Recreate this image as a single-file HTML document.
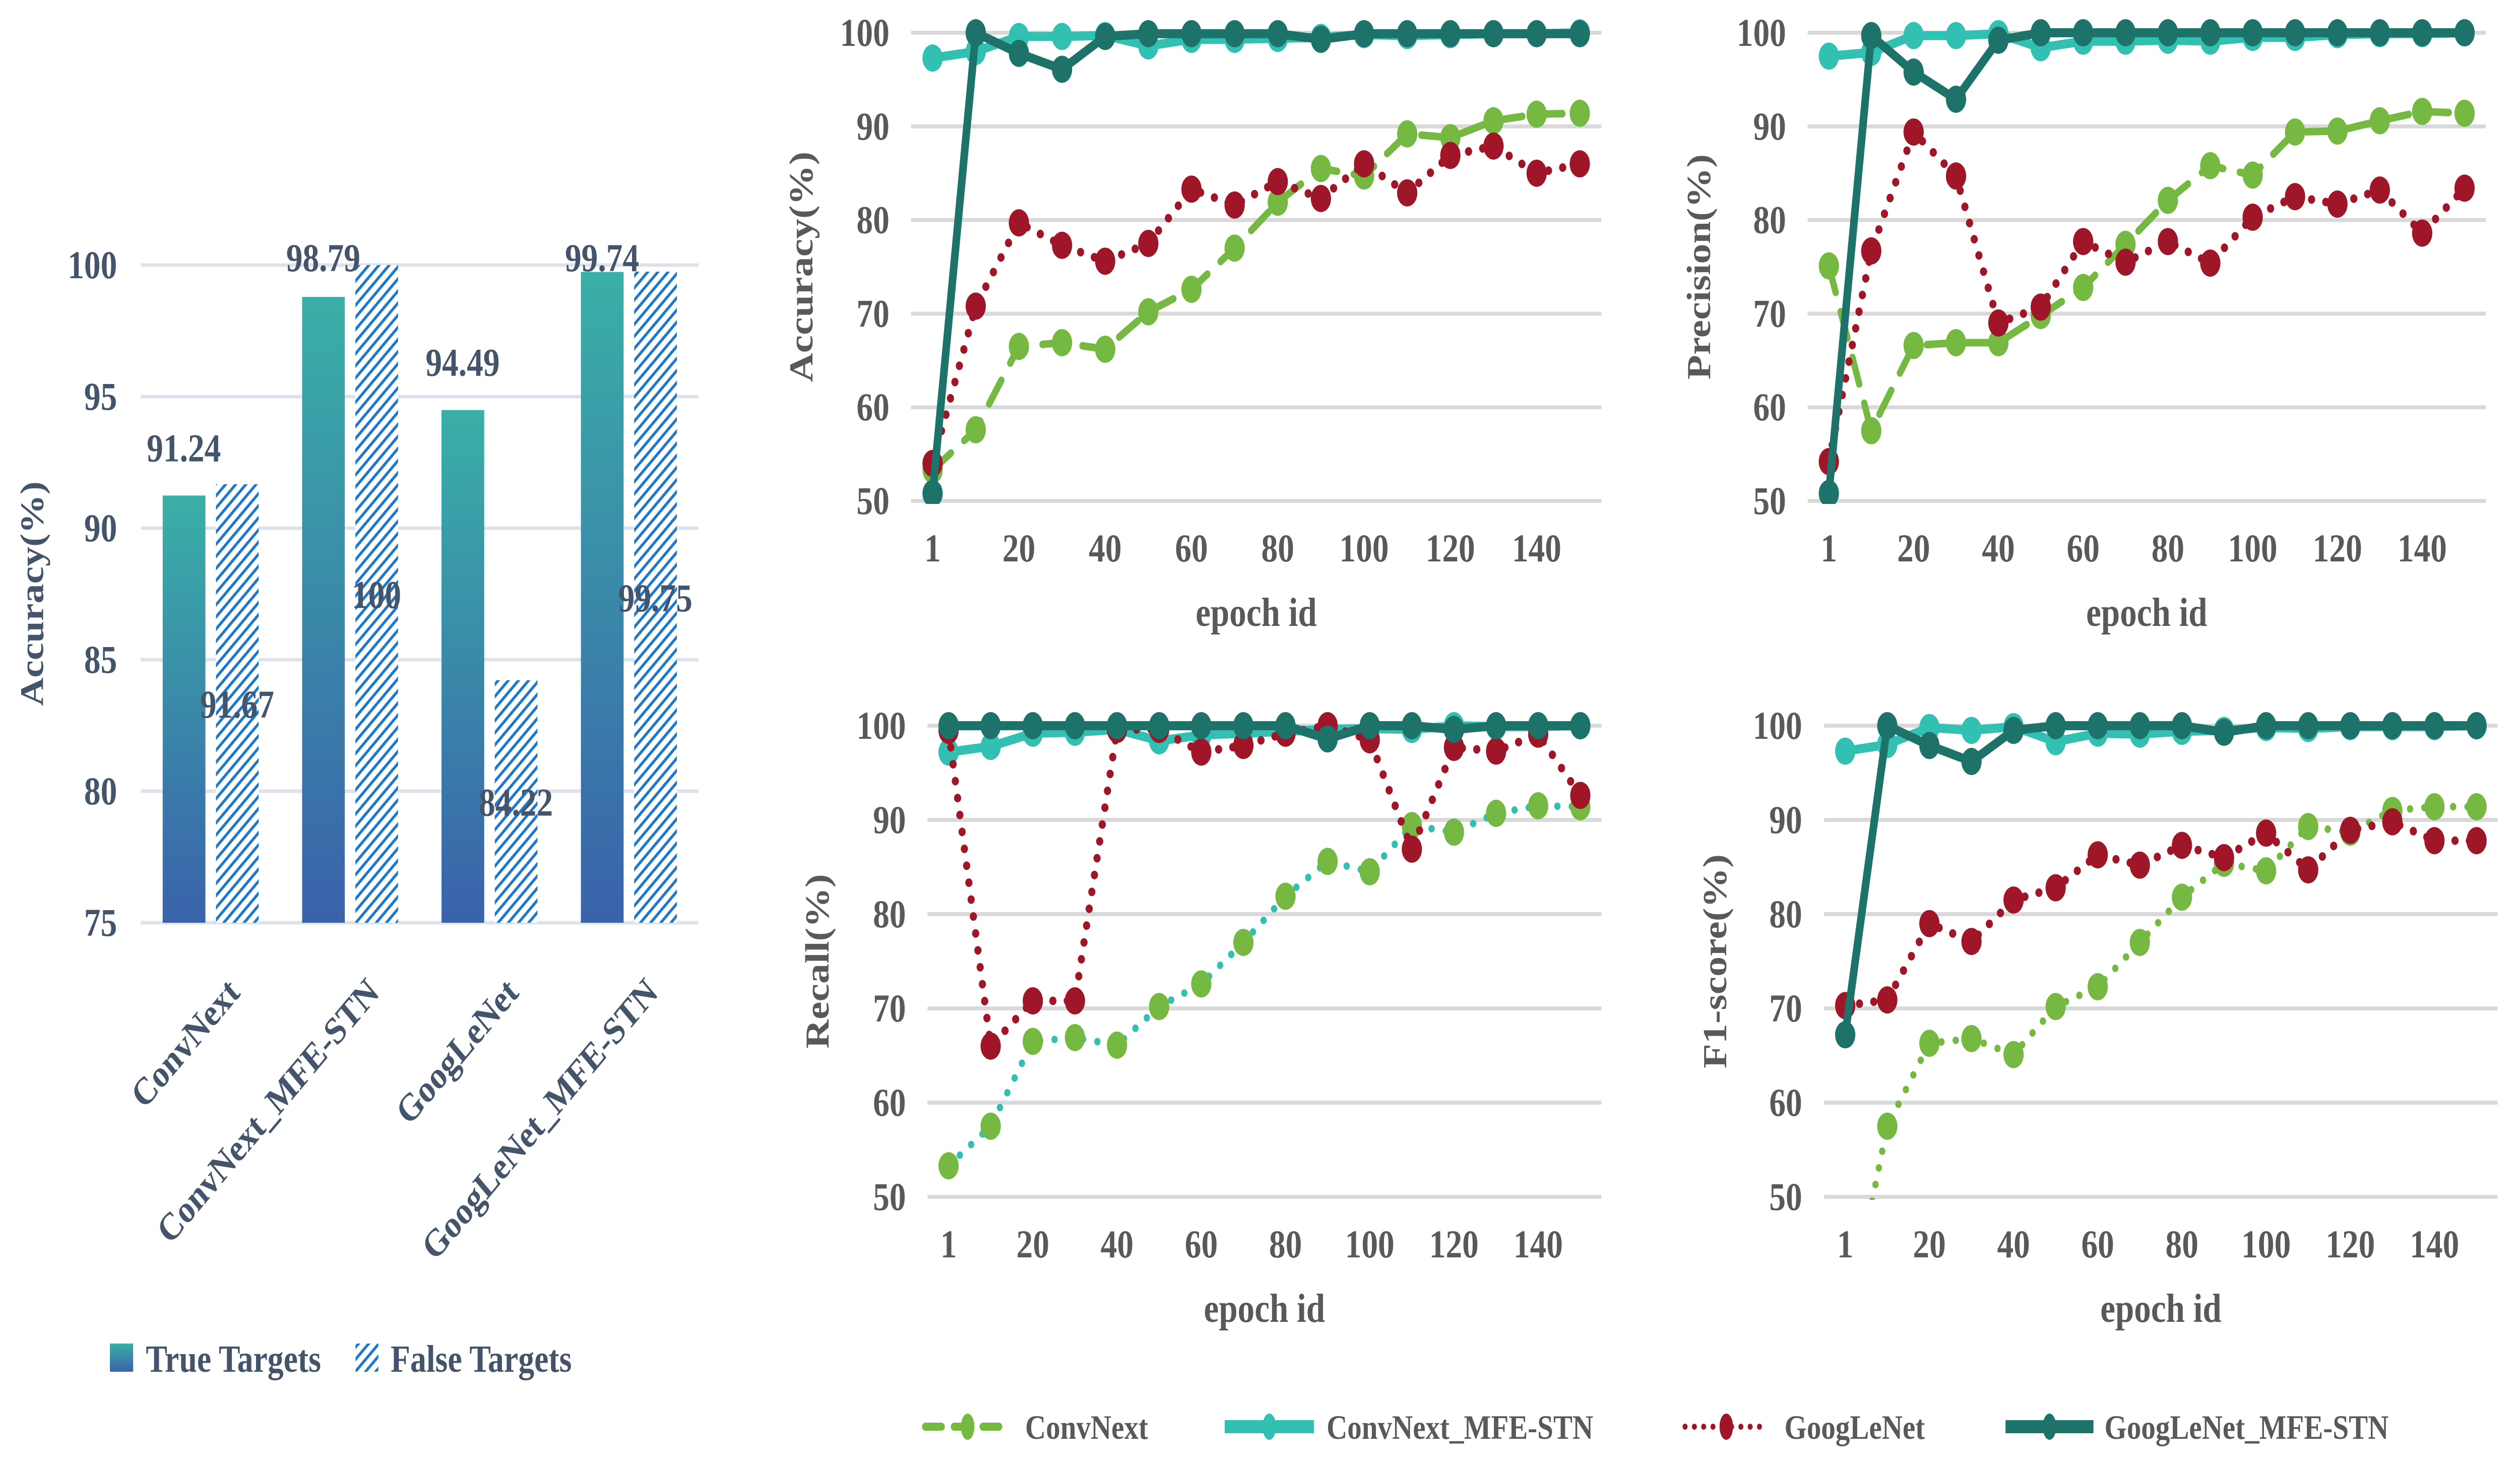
<!DOCTYPE html>
<html><head><meta charset="utf-8">
<style>
html,body{margin:0;padding:0;background:#fff;width:100%;height:100%;overflow:hidden;}
svg{display:block;width:100vw;height:100vh;font-family:"Liberation Serif",serif;font-weight:bold;}
</style></head>
<body>
<svg id="root" viewBox="0 0 5961 2911" preserveAspectRatio="none" xmlns="http://www.w3.org/2000/svg">
<defs>
  <linearGradient id="gradTrue" x1="0" y1="0" x2="0" y2="1">
    <stop offset="0" stop-color="#3AAFA7"/>
    <stop offset="1" stop-color="#3A62AB"/>
  </linearGradient>
  <pattern id="hatch" patternUnits="userSpaceOnUse" width="17" height="17" patternTransform="rotate(45)">
    <rect width="17" height="17" fill="#fff"/>
    <rect x="0" y="0" width="6" height="17" fill="#1F78C8"/>
  </pattern>
</defs>
<g id="bar-chart"></g>
<g id="line-charts"></g>
<g id="line-legend"></g>
</svg>
<script>
const NS="http://www.w3.org/2000/svg";
function mk(parent,tag,attrs,text){const e=document.createElementNS(NS,tag);for(const k in attrs)e.setAttribute(k,attrs[k]);if(text!==undefined)e.textContent=text;parent.appendChild(e);return e;}

// ===== Bar chart data =====
const barCategories=["ConvNext","ConvNext_MFE-STN","GoogLeNet","GoogLeNet_MFE-STN"];
const trueTargets=[91.24,98.79,94.49,99.74];
const falseTargets=[91.67,100,84.22,99.75];
const barTicks=[75,80,85,90,95,100];

// ===== Line chart data =====
const epochCats=["1","10","20","30","40","50","60","70","80","90","100","110","120","130","140","150"];
const epochTickLabels=["1","","20","","40","","60","","80","","100","","120","","140",""];
const lineTicks=[50,60,70,80,90,100];
const seriesNames=["ConvNext","ConvNext_MFE-STN","GoogLeNet","GoogLeNet_MFE-STN"];

const accConvNext=[53.3,57.6,66.5,66.9,66.2,70.2,72.6,77.0,81.9,85.5,84.7,89.2,88.8,90.6,91.3,91.4];
const accConvNextMFE=[97.3,98.0,99.6,99.6,99.7,98.6,99.3,99.3,99.4,99.5,99.8,99.7,99.8,99.9,99.9,100];
const accGoogLeNet=[54.0,70.8,79.7,77.3,75.6,77.5,83.3,81.6,84.1,82.3,86.0,82.9,86.9,87.9,85.0,86.0];
const accGoogLeNetMFE=[50.8,100,97.8,96.1,99.6,99.9,99.9,99.9,99.9,99.3,99.9,99.9,99.9,99.9,99.9,99.9];

const preConvNext=[75.1,57.5,66.6,66.9,66.9,69.8,72.8,77.4,82.1,85.8,84.8,89.4,89.5,90.6,91.6,91.4];
const preConvNextMFE=[97.5,97.9,99.7,99.7,99.9,98.4,99.1,99.1,99.2,99.1,99.5,99.5,99.8,99.9,99.9,100];
const preGoogLeNet=[54.2,76.7,89.4,84.7,69.0,70.7,77.7,75.5,77.7,75.4,80.3,82.5,81.7,83.2,78.6,83.4];
const preGoogLeNetMFE=[50.8,99.7,95.8,92.9,99.2,100,100,100,100,100,100,100,100,100,100,100];

const recConvNext=[53.3,57.5,66.5,66.9,66.1,70.2,72.6,77.0,81.9,85.6,84.5,89.4,88.7,90.7,91.5,91.4];
const recConvNextMFE=[97.2,97.8,99.2,99.3,99.6,98.4,99.0,99.2,99.4,99.6,99.7,99.6,100,99.9,99.9,100];
const recGoogLeNet=[99.5,66.0,70.8,70.8,99.6,99.6,97.2,97.9,99.2,100,98.5,86.9,97.7,97.3,99.1,92.6];
const recGoogLeNetMFE=[100,100,100,100,100,100,100,100,100,98.6,100,100,99.6,100,100,100];

const f1ConvNext=[35.4,57.5,66.3,66.8,65.1,70.2,72.3,77.0,81.8,85.4,84.6,89.3,88.7,91.0,91.4,91.4];
const f1ConvNextMFE=[97.3,98.0,99.8,99.5,99.9,98.3,99.2,99.1,99.4,99.5,99.8,99.7,99.9,99.9,99.9,100];
const f1GoogLeNet=[70.3,70.9,79.0,77.1,81.5,82.8,86.3,85.2,87.3,86.0,88.6,84.7,88.9,89.8,87.8,87.8];
const f1GoogLeNetMFE=[67.2,100,97.9,96.2,99.5,100,100,100,100,99.3,100,100,100,100,100,100];

// ===== Bar chart =====
(function(){
  const g=document.getElementById('bar-chart');
  const x0=333,x1=1652,yTop=526,yBot=1831,vMin=75,vMax=100;
  const y=v=>yBot-(v-vMin)/(vMax-vMin)*(yBot-yTop);
  const bw=(x1-x0)/barCategories.length;
  const col="#44546A";
  barTicks.forEach(t=>{
    const l=mk(g,'rect',{x:x0,y:y(t)-3.5,width:x1-x0,height:7,fill:'#DEE2EA'});
    
    
    const tx=mk(g,'text',{x:277,y:y(t)+26,'text-anchor':'end','font-size':78,fill:col},String(t));
    
    
  });
  barCategories.forEach((c,i)=>{
    const cx=x0+bw*(i+0.5);
    const b1=mk(g,'rect',{x:cx-113,y:y(trueTargets[i]),width:101,height:yBot-y(trueTargets[i]),fill:'url(#gradTrue)'});
    
    
    const b2=mk(g,'rect',{x:cx+13,y:y(falseTargets[i]),width:101,height:yBot-y(falseTargets[i]),fill:'url(#hatch)'});
    
    
    const ly=Math.max(y(trueTargets[i])-68,538);
    const l1=mk(g,'text',{x:cx-63,y:ly,'text-anchor':'middle','font-size':78,fill:col},trueTargets[i].toFixed(2));
    
    
    const mid=(y(falseTargets[i])+yBot)/2+28;
    const l2=mk(g,'text',{x:cx+63,y:mid,'text-anchor':'middle','font-size':78,fill:col},String(falseTargets[i]));
    
    
    const ct=mk(g,'text',{x:cx+35,y:1935,'text-anchor':'end','dominant-baseline':'hanging','font-size':76,fill:col,transform:`rotate(-45 ${cx+35} 1935)`},c);
    
    
  });
  const yt=mk(g,'text',{x:0,y:0,'text-anchor':'middle','font-size':78,fill:col,transform:'translate(102 1178) rotate(-90)'},'Accuracy(%)');
  
  
  const s1=mk(g,'rect',{x:260,y:2666,width:55,height:56,fill:'url(#gradTrue)'});
  
  
  const t1=mk(g,'text',{x:345,y:2722,'font-size':76,fill:col},'True Targets');
  
  
  const s2=mk(g,'rect',{x:841,y:2666,width:54,height:56,fill:'url(#hatch)'});
  
  
  const t2=mk(g,'text',{x:924,y:2722,'font-size':76,fill:col},'False Targets');
  
  
})();

// ===== Line charts =====
const GREEN="#76B942",TEAL="#31C0B2",RED="#9E1628",DARK="#1D7269",GRAY="#595959";
function panel(id,title,x0,x1,y100,y50,tickRight,titleX,data,convLineColor){
  const root=document.getElementById('line-charts');
  const g=mk(root,'g',{});
  
  
  const y=v=>y50-(v-50)/50*(y50-y100);
  const cw=(x1-x0)/epochCats.length;
  const x=i=>x0+cw*(i+0.5);
  const clipId='clip-'+id;
  const cp=mk(g,'clipPath',{id:clipId});
  mk(cp,'rect',{x:x0-60,y:y100-80,width:x1-x0+120,height:y50-y100+80+6});
  lineTicks.forEach(t=>{
    const l=mk(g,'rect',{x:x0,y:y(t)-4,width:x1-x0,height:8,fill:'#D9D9D9'});
    
    
    const tx=mk(g,'text',{x:tickRight,y:y(t)+26,'text-anchor':'end','font-size':78,fill:GRAY},String(t));
    
    
  });
  epochTickLabels.forEach((lb,i)=>{
    if(!lb)return;
    const tx=mk(g,'text',{x:x(i),y:y50+120,'text-anchor':'middle','font-size':78,fill:GRAY},lb);
    
    
  });
  const xt=mk(g,'text',{x:(x0+x1)/2,y:y50+248,'text-anchor':'middle','font-size':80,fill:GRAY},'epoch id');
  
  
  const yt=mk(g,'text',{x:0,y:0,'text-anchor':'middle','font-size':80,fill:GRAY,transform:`translate(${titleX} ${(y100+y50)/2}) rotate(-90)`},title);
  
  
  const styles=[
    {stroke:convLineColor.line,w:15,dash:convLineColor.dash,cap:'round',mk:GREEN},
    {stroke:TEAL,w:18,dash:null,cap:'round',mk:TEAL},
    {stroke:RED,w:17,dash:'0 34',cap:'round',mk:RED},
    {stroke:DARK,w:18,dash:null,cap:'round',mk:DARK}
  ];
  const sg=mk(g,'g',{'clip-path':`url(#${clipId})`});
  data.forEach((vals,si)=>{
    const st=styles[si];
    const pts=vals.map((v,i)=>`${x(i).toFixed(1)},${y(v).toFixed(1)}`).join(' ');
    const a={points:pts,fill:'none',stroke:st.stroke,'stroke-width':st.w,'stroke-linecap':st.cap,'stroke-linejoin':'round'};
    if(st.dash)a['stroke-dasharray']=st.dash;
    const pl=mk(sg,'polyline',a);
    
    
    vals.forEach((v,i)=>{
      const c=mk(sg,'ellipse',{cx:x(i),cy:y(v),rx:24,ry:27,fill:st.mk});
      
      
    });
  });
}
panel('accuracy-chart','Accuracy(%)',2155,3788,65,994,2104,1922,[accConvNext,accConvNextMFE,accGoogLeNet,accGoogLeNetMFE],{line:GREEN,dash:'55 40'});
panel('precision-chart','Precision(%)',4276,5880,65,994,4225,4045,[preConvNext,preConvNextMFE,preGoogLeNet,preGoogLeNetMFE],{line:GREEN,dash:'55 40'});
panel('recall-chart','Recall(%)',2194,3788,1440,2375,2143,1960,[recConvNext,recConvNextMFE,recGoogLeNet,recGoogLeNetMFE],{line:TEAL,dash:'0 34'});
panel('f1-chart','F1-score(%)',4315,5908,1440,2375,4263,4083,[f1ConvNext,f1ConvNextMFE,f1GoogLeNet,f1GoogLeNetMFE],{line:GREEN,dash:'0 34'});

// ===== Line legend =====
(function(){
  const g=document.getElementById('line-legend');
  const yc=2831;
  const items=[
    {x0:2181,x1:2397,tx:2425,c:GREEN,dash:'38 30',w:16},
    {x0:2889,x1:3116,tx:3138,c:TEAL,dash:null,w:26},
    {x0:3978,x1:4189,tx:4221,c:RED,dash:'0 22',w:12},
    {x0:4736,x1:4960,tx:4978,c:DARK,dash:null,w:26}
  ];
  items.forEach((it,i)=>{
    const a={x1:it.x0+8,y1:yc,x2:it.x1-8,y2:yc,stroke:it.c,'stroke-width':it.w,'stroke-linecap':'round'};
    if(it.dash)a['stroke-dasharray']=it.dash;
    if(!it.dash)a['stroke-linecap']='butt';
    const l=mk(g,'line',a);
    
    
    const m=mk(g,'ellipse',{cx:(it.x0+it.x1)/2,cy:yc,rx:16,ry:26,fill:it.c});
    
    
    const t=mk(g,'text',{x:it.tx,y:yc+24,'font-size':68,fill:GRAY},seriesNames[i]);
    
    
  });
})();
</script>
</body></html>
